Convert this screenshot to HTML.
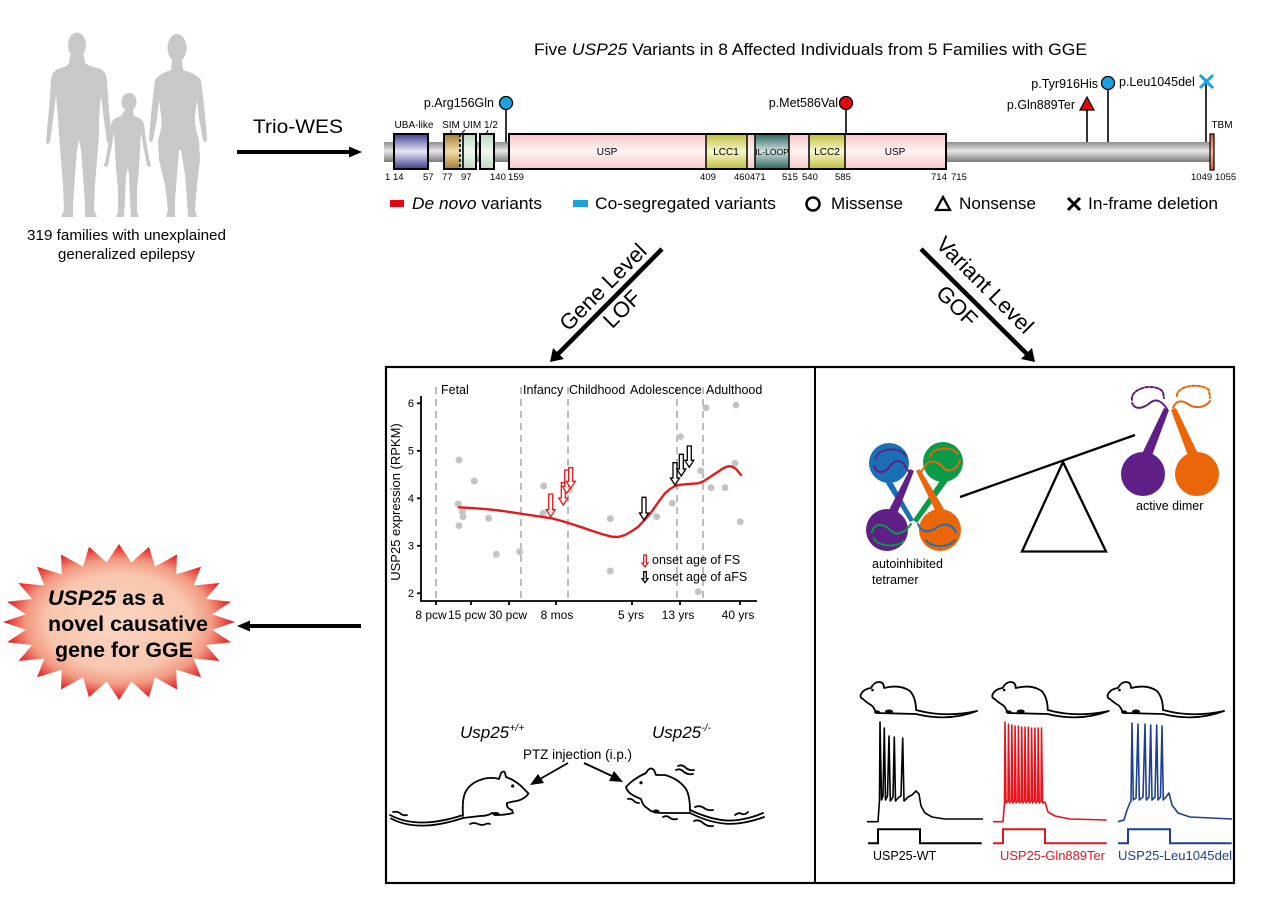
<!DOCTYPE html>
<html><head><meta charset="utf-8">
<style>
html,body{margin:0;padding:0;background:#fff;}
svg{display:block;font-family:"Liberation Sans",Arial,sans-serif;}
</style></head><body>
<svg width="1268" height="906" viewBox="0 0 1268 906" xmlns="http://www.w3.org/2000/svg">
<defs>
 <linearGradient id="gbar" x1="0" y1="0" x2="0" y2="1">
  <stop offset="0" stop-color="#8e8e8e"/><stop offset="0.45" stop-color="#e8e8e8"/><stop offset="1" stop-color="#7a7a7a"/>
 </linearGradient>
 <linearGradient id="gUBA" x1="0" y1="0" x2="0" y2="1">
  <stop offset="0" stop-color="#3c3f8c"/><stop offset="0.5" stop-color="#e8e8f6"/><stop offset="1" stop-color="#3c3f8c"/>
 </linearGradient>
 <linearGradient id="gSIM" x1="0" y1="0" x2="0" y2="1">
  <stop offset="0" stop-color="#a07c30"/><stop offset="0.5" stop-color="#f2dca8"/><stop offset="1" stop-color="#a07c30"/>
 </linearGradient>
 <linearGradient id="gGR" x1="0" y1="0" x2="0" y2="1">
  <stop offset="0" stop-color="#bcd9bc"/><stop offset="0.5" stop-color="#f2f9f2"/><stop offset="1" stop-color="#bcd9bc"/>
 </linearGradient>
 <linearGradient id="gUSP" x1="0" y1="0" x2="0" y2="1">
  <stop offset="0" stop-color="#f6c6c6"/><stop offset="0.5" stop-color="#fff4f4"/><stop offset="1" stop-color="#f6c6c6"/>
 </linearGradient>
 <linearGradient id="gLCC" x1="0" y1="0" x2="0" y2="1">
  <stop offset="0" stop-color="#bebe3e"/><stop offset="0.5" stop-color="#f7f7cc"/><stop offset="1" stop-color="#bebe3e"/>
 </linearGradient>
 <linearGradient id="gIL" x1="0" y1="0" x2="0" y2="1">
  <stop offset="0" stop-color="#2c6460"/><stop offset="0.5" stop-color="#d2e2de"/><stop offset="1" stop-color="#2c6460"/>
 </linearGradient>
 <linearGradient id="gTBM" x1="0" y1="0" x2="0" y2="1">
  <stop offset="0" stop-color="#e06030"/><stop offset="0.5" stop-color="#f9b898"/><stop offset="1" stop-color="#e06030"/>
 </linearGradient>
 <radialGradient id="gStar" cx="0.5" cy="0.5" r="0.5">
  <stop offset="0" stop-color="#fbd6c2"/><stop offset="0.62" stop-color="#f8c6ad"/><stop offset="0.8" stop-color="#f29a82"/><stop offset="1" stop-color="#e3151d"/>
 </radialGradient>
</defs>

<!-- ===== Family silhouettes ===== -->
<g fill="#c8c8c8">
 <ellipse cx="77" cy="45" rx="9" ry="12.5"/>
 <path d="M70,55 L84,55 L85,63 Q88,66 98,68 Q106,70 107,80 L109,110 L111,130 L112,142 Q110,146 107,142 L104,120 L101,95 L99,118 L99,135 L97,160 L95,185 L94,210 L97,217 L85,217 L85,205 L83,175 L81,150 L79,140 L77,150 L75,175 L73,205 L73,217 L61,217 L64,210 L63,185 L61,160 L59,135 L58,118 L56,95 L53,120 L50,142 Q47,146 46,142 L47,130 L49,110 L51,80 Q52,70 61,68 Q68,66 69,63 Z"/>
 <ellipse cx="129" cy="102" rx="7.5" ry="9"/>
 <path d="M125,110 L133,110 L134,116 Q142,118 144,124 L146,140 L149,158 L151,166 Q149,168 147,165 L143,145 L141,132 L140,150 L139,168 L137,190 L137,212 L139,217 L131,217 L130,200 L129,175 L128,168 L126,175 L125,200 L124,217 L116,217 L118,212 L118,190 L116,168 L115,150 L114,132 L112,145 L108,165 Q106,168 104,166 L106,158 L109,140 L111,124 Q113,118 121,116 Z"/>
 <ellipse cx="177" cy="48" rx="9.5" ry="14"/>
 <path d="M172,60 L182,60 L183,70 Q197,74 201,80 L204,105 L206,125 L207,140 Q205,144 203,140 L199,118 L197,100 L195,115 Q194,125 199,140 L200,160 L197,185 L195,210 L197,217 L188,217 L187,200 L185,175 L181,150 L179,150 L177,175 L175,200 L175,217 L166,217 L168,210 L165,185 L159,160 L158,140 Q163,125 161,115 L159,100 L157,118 L153,140 Q151,144 149,140 L150,125 L152,105 L155,80 Q159,74 171,70 Z"/>
</g>
<text x="27" y="240" font-size="15" textLength="199" lengthAdjust="spacingAndGlyphs">319 families with unexplained</text>
<text x="58" y="259" font-size="15" textLength="137" lengthAdjust="spacingAndGlyphs">generalized epilepsy</text>

<!-- Trio-WES arrow -->
<text x="253" y="133" font-size="19" textLength="90" lengthAdjust="spacingAndGlyphs">Trio-WES</text>
<line x1="237" y1="152" x2="351" y2="152" stroke="#000" stroke-width="4"/>
<polygon points="349,146.5 362,152 349,157.5" fill="#000"/>

<!-- ===== Protein diagram ===== -->
<text x="534" y="55" font-size="16.5" textLength="553" lengthAdjust="spacingAndGlyphs">Five <tspan font-style="italic">USP25</tspan> Variants in 8 Affected Individuals from 5 Families with GGE</text>

<rect x="384" y="142" width="827" height="20" fill="url(#gbar)"/>

<!-- stems -->
<g stroke="#000" stroke-width="1.6">
 <line x1="506" y1="108" x2="506" y2="142"/>
 <line x1="846" y1="108" x2="846" y2="134"/>
 <line x1="1087" y1="108" x2="1087" y2="142"/>
 <line x1="1108" y1="88" x2="1108" y2="142"/>
 <line x1="1206" y1="84" x2="1206" y2="142"/>
</g>

<!-- domains -->
<g stroke="#000" stroke-width="2">
 <rect x="394" y="134" width="34" height="35" fill="url(#gUBA)"/>
 <rect x="444" y="134" width="16" height="35" fill="url(#gSIM)" stroke="none"/>
 <rect x="460" y="134" width="16" height="35" fill="url(#gGR)" stroke="none"/>
 <rect x="444" y="134" width="32" height="35" fill="none"/>
 <line x1="463" y1="134" x2="463" y2="169" stroke-width="1.6"/>
 <rect x="480" y="134" width="14" height="35" fill="url(#gGR)"/>
 <rect x="509" y="134" width="437" height="35" fill="url(#gUSP)"/>
 <rect x="706" y="134" width="41" height="35" fill="url(#gLCC)" stroke-width="1.5"/>
 <rect x="755" y="134" width="34" height="35" fill="url(#gIL)" stroke-width="1.5"/>
 <rect x="809" y="134" width="36" height="35" fill="url(#gLCC)" stroke-width="1.5"/>
 <rect x="509" y="134" width="437" height="35" fill="none"/>
 <rect x="1210" y="134" width="4" height="36" fill="url(#gTBM)" stroke-width="1.2"/>
</g>
<line x1="460" y1="134" x2="460" y2="169" stroke="#000" stroke-width="1.6" stroke-dasharray="3,2"/>

<g font-size="10" text-anchor="middle">
 <text x="414" y="128">UBA-like</text>
 <text x="451" y="128">SIM</text>
 <text x="472" y="128">UIM</text>
 <text x="491" y="128">1/2</text>
 <text x="607" y="155">USP</text>
 <text x="726" y="155">LCC1</text>
 <text x="772" y="155" font-size="8.5">IL-LOOP</text>
 <text x="827" y="155">LCC2</text>
 <text x="895" y="155">USP</text>
 <text x="1222" y="128">TBM</text>
</g>
<g stroke="#000" stroke-width="1">
 <line x1="451" y1="130" x2="451" y2="134"/>
 <line x1="465" y1="130" x2="461" y2="134"/>
 <line x1="488" y1="130" x2="486" y2="134"/>
</g>

<g font-size="9.5">
 <text x="385" y="180">1</text>
 <text x="393" y="180">14</text>
 <text x="423" y="180">57</text>
 <text x="442" y="180">77</text>
 <text x="461" y="180">97</text>
 <text x="490" y="180">140</text>
 <text x="508" y="180">159</text>
 <text x="700" y="180">409</text>
 <text x="734" y="180">460471</text>
 <text x="782" y="180">515</text>
 <text x="802" y="180">540</text>
 <text x="835" y="180">585</text>
 <text x="931" y="180">714</text>
 <text x="951" y="180">715</text>
 <text x="1191" y="180">1049</text>
 <text x="1215" y="180">1055</text>
</g>

<!-- variant markers -->
<circle cx="506" cy="103" r="6.5" fill="#1ba1e2" stroke="#000" stroke-width="1.3"/>
<circle cx="846" cy="103" r="6.5" fill="#e30613" stroke="#000" stroke-width="1.3"/>
<circle cx="1108" cy="83" r="6.5" fill="#1ba1e2" stroke="#000" stroke-width="1.3"/>
<polygon points="1087,97 1094,110 1080,110" fill="#e30613" stroke="#000" stroke-width="1.2"/>
<g stroke="#1ba1e2" stroke-width="3">
 <line x1="1200" y1="75" x2="1213" y2="88"/><line x1="1213" y1="75" x2="1200" y2="88"/>
</g>
<g font-size="12.5">
 <text x="494" y="107" text-anchor="end">p.Arg156Gln</text>
 <text x="838" y="107" text-anchor="end">p.Met586Val</text>
 <text x="1075" y="109" text-anchor="end">p.Gln889Ter</text>
 <text x="1098" y="88" text-anchor="end">p.Tyr916His</text>
 <text x="1119" y="86">p.Leu1045del</text>
</g>

<!-- legend -->
<rect x="390" y="200" width="14" height="7" fill="#e30613"/>
<text x="412" y="209" font-size="17" textLength="130" lengthAdjust="spacingAndGlyphs"><tspan font-style="italic">De novo</tspan> variants</text>
<rect x="573" y="200" width="15" height="7" fill="#1ba1e2"/>
<text x="595" y="209" font-size="17" textLength="181" lengthAdjust="spacingAndGlyphs">Co-segregated variants</text>
<circle cx="813" cy="204" r="6.5" fill="none" stroke="#000" stroke-width="2.5"/>
<text x="831" y="209" font-size="17" textLength="72" lengthAdjust="spacingAndGlyphs">Missense</text>
<polygon points="943,197 950,210 936,210" fill="none" stroke="#000" stroke-width="2.3"/>
<text x="959" y="209" font-size="17" textLength="77" lengthAdjust="spacingAndGlyphs">Nonsense</text>
<g stroke="#000" stroke-width="3"><line x1="1068" y1="198" x2="1080" y2="210"/><line x1="1080" y1="198" x2="1068" y2="210"/></g>
<text x="1088" y="209" font-size="17" textLength="130" lengthAdjust="spacingAndGlyphs">In-frame deletion</text>

<!-- ===== diagonal arrows ===== -->
<line x1="662" y1="249" x2="557" y2="355" stroke="#000" stroke-width="4.5"/>
<polygon points="550,362 553,348 564,359" fill="#000"/>
<line x1="921" y1="249" x2="1028" y2="355" stroke="#000" stroke-width="4.5"/>
<polygon points="1035,362 1021,359 1032,348" fill="#000"/>
<text transform="translate(603,287) rotate(-45)" font-size="22" text-anchor="middle" dominant-baseline="central">Gene Level</text>
<text transform="translate(622,309) rotate(-45)" font-size="22" text-anchor="middle" dominant-baseline="central">LOF</text>
<text transform="translate(985,285) rotate(45)" font-size="22" text-anchor="middle" dominant-baseline="central">Variant Level</text>
<text transform="translate(957,306) rotate(45)" font-size="22" text-anchor="middle" dominant-baseline="central">GOF</text>

<!-- ===== main box ===== -->
<rect x="386" y="367" width="848" height="516" fill="none" stroke="#000" stroke-width="2.2"/>
<line x1="815" y1="367" x2="815" y2="883" stroke="#000" stroke-width="2"/>

<!-- ===== Starburst ===== -->
<polygon fill="url(#gStar)" points="235,622 212.2,629.8 231,642.2 205.8,645 219.5,661 193.6,658.5 201,677.2 176.2,669.6 177,689.5 155,677.4 149,697.3 131.3,681.5 119,700 106.7,681.5 89,697.3 83,677.4 61,689.5 61.8,669.6 37,677.2 44.4,658.5 18.5,661 32.2,645 7,642.2 25.8,629.8 3,622 25.8,614.2 7,601.8 32.2,599 18.5,583 44.4,585.5 37,566.8 61.8,574.4 61,554.5 83,566.6 89,546.7 106.7,562.5 119,544 131.3,562.5 149,546.7 155,566.6 177,554.5 176.2,574.4 201,566.8 193.6,585.5 219.5,583 205.8,599 231,601.8 212.2,614.2"/>
<g font-size="21.5" font-weight="bold">
 <text x="48" y="605" textLength="116" lengthAdjust="spacingAndGlyphs"><tspan font-style="italic">USP25</tspan> as a</text>
 <text x="48" y="631" textLength="160" lengthAdjust="spacingAndGlyphs">novel causative</text>
 <text x="55" y="657" textLength="138" lengthAdjust="spacingAndGlyphs">gene for GGE</text>
</g>
<line x1="361" y1="626" x2="248" y2="626" stroke="#000" stroke-width="4"/>
<polygon points="250,620.5 237,626 250,631.5" fill="#000"/>

<!-- ===== Expression chart ===== -->
<g stroke="#bdbdbd" stroke-width="2" stroke-dasharray="7,5">
 <line x1="436" y1="387" x2="436" y2="600"/>
 <line x1="521" y1="387" x2="521" y2="600"/>
 <line x1="568" y1="387" x2="568" y2="600"/>
 <line x1="677" y1="387" x2="677" y2="600"/>
 <line x1="703" y1="387" x2="703" y2="600"/>
</g>
<g font-size="12.5">
 <text x="441" y="394">Fetal</text>
 <text x="523" y="394">Infancy</text>
 <text x="569" y="394">Childhood</text>
 <text x="630" y="394">Adolescence</text>
 <text x="706" y="394">Adulthood</text>
</g>
<g stroke="#000" stroke-width="1.8">
 <line x1="421" y1="396" x2="421" y2="601.5"/>
 <line x1="420" y1="601" x2="757" y2="601"/>
 <line x1="417" y1="403.3" x2="421" y2="403.3"/>
 <line x1="417" y1="450.8" x2="421" y2="450.8"/>
 <line x1="417" y1="498.3" x2="421" y2="498.3"/>
 <line x1="417" y1="545.8" x2="421" y2="545.8"/>
 <line x1="417" y1="593.3" x2="421" y2="593.3"/>
 <line x1="436" y1="601" x2="436" y2="605"/>
 <line x1="471" y1="601" x2="471" y2="605"/>
 <line x1="509" y1="601" x2="509" y2="605"/>
 <line x1="556" y1="601" x2="556" y2="605"/>
 <line x1="632" y1="601" x2="632" y2="605"/>
 <line x1="680" y1="601" x2="680" y2="605"/>
 <line x1="740" y1="601" x2="740" y2="605"/>
</g>
<g font-size="11" text-anchor="end">
 <text x="414" y="407">6</text>
 <text x="414" y="454.5">5</text>
 <text x="414" y="502">4</text>
 <text x="414" y="549.5">3</text>
 <text x="414" y="597">2</text>
</g>
<text transform="translate(400,502) rotate(-90)" font-size="13" text-anchor="middle">USP25 expression (RPKM)</text>
<g font-size="12" text-anchor="middle">
 <text x="431" y="619">8 pcw</text>
 <text x="467" y="619">15 pcw</text>
 <text x="508" y="619">30 pcw</text>
 <text x="557" y="619">8 mos</text>
 <text x="631" y="619">5 yrs</text>
 <text x="678" y="619">13 yrs</text>
 <text x="738" y="619">40 yrs</text>
</g>
<g fill="#c4c4c4">
 <circle cx="459" cy="460" r="3.5"/><circle cx="458.3" cy="504" r="3.5"/><circle cx="462.3" cy="511.7" r="3.5"/>
 <circle cx="463" cy="516.7" r="3.5"/><circle cx="459" cy="525.7" r="3.5"/><circle cx="474.3" cy="481" r="3.5"/>
 <circle cx="488.7" cy="518.3" r="3.5"/><circle cx="496.3" cy="554.3" r="3.5"/><circle cx="519.7" cy="551.7" r="3.5"/>
 <circle cx="543.7" cy="486" r="3.5"/><circle cx="543" cy="513.3" r="3.5"/><circle cx="569.3" cy="490" r="3.5"/>
 <circle cx="610.3" cy="518.7" r="3.5"/><circle cx="610.3" cy="571" r="3.5"/><circle cx="656.7" cy="516.7" r="3.5"/>
 <circle cx="672.3" cy="503.3" r="3.5"/><circle cx="680.3" cy="436.7" r="3.5"/><circle cx="698.3" cy="591.7" r="3.5"/>
 <circle cx="700.7" cy="470.7" r="3.5"/><circle cx="711" cy="487.7" r="3.5"/><circle cx="706" cy="407.7" r="3.5"/>
 <circle cx="725" cy="487.7" r="3.5"/><circle cx="735" cy="463.3" r="3.5"/><circle cx="736" cy="405" r="3.5"/>
 <circle cx="740.3" cy="521.7" r="3.5"/>
</g>
<polyline fill="none" stroke="#e41a1c" stroke-width="2.4" stroke-linejoin="round" stroke-linecap="round" points="459,507.3 474,508.2 488.3,509.3 503,511 518.3,513.3 535,515.8 551.7,518.3 562,521 571.7,524 581.7,527.3 591.7,530.7 601.7,534 611.7,536.7 618,537 625,535 632,531 638.3,526.7 645,519.5 651.7,511.7 658,502.5 665,493.3 670,489 675,486 680,484.8 685,484.3 691,483.8 698.3,483.3 703,481.5 708.3,478.3 713,475 718.3,471.7 722,469 726.7,466.7 730,466.2 733.3,467.3 736,469 738.3,471.7 741,475"/>
<g fill="#fff" stroke="#e41a1c" stroke-width="1.3">
 <path d="M548.7,494 L552.7,494 L552.7,509.7 L555.2,509.7 L550.7,516.7 L546.2,509.7 L548.7,509.7 Z"/>
 <path d="M561.3,482.7 L565.3,482.7 L565.3,498 L567.8,498 L563.3,505 L558.8,498 L561.3,498 Z"/>
 <path d="M564.7,470 L568.7,470 L568.7,486.3 L571.2,486.3 L566.7,493.3 L562.2,486.3 L564.7,486.3 Z"/>
 <path d="M568.7,467.7 L572.7,467.7 L572.7,481.3 L575.2,481.3 L570.7,488.3 L566.2,481.3 L568.7,481.3 Z"/>
 <path d="M643.7,555 L646.3,555 L646.3,563 L648,563 L645,567 L642,563 L643.7,563 Z"/>
</g>
<g fill="#fff" stroke="#000" stroke-width="1.3">
 <path d="M642,497.3 L646,497.3 L646,513 L648.5,513 L644,520 L639.5,513 L642,513 Z"/>
 <path d="M673,462.7 L677,462.7 L677,478 L679.5,478 L675,485 L670.5,478 L673,478 Z"/>
 <path d="M679.3,454.3 L683.3,454.3 L683.3,469 L685.8,469 L681.3,476 L676.8,469 L679.3,469 Z"/>
 <path d="M687.3,446 L691.3,446 L691.3,460.3 L693.8,460.3 L689.3,467.3 L684.8,460.3 L687.3,460.3 Z"/>
 <path d="M643.7,571.7 L646.3,571.7 L646.3,578.7 L648,578.7 L645,582.7 L642,578.7 L643.7,578.7 Z"/>
</g>
<text x="652" y="564" font-size="12.5">onset age of FS</text>
<text x="652" y="581" font-size="12.5">onset age of aFS</text>

<!-- ===== Knockout mice ===== -->
<text x="460" y="738" font-size="17" font-style="italic">Usp25<tspan font-size="10.5" dy="-7">+/+</tspan></text>
<text x="652" y="738" font-size="17" font-style="italic">Usp25<tspan font-size="10.5" dy="-7">-/-</tspan></text>
<text x="523" y="759" font-size="13.5" textLength="109" lengthAdjust="spacingAndGlyphs">PTZ injection (i.p.)</text>
<line x1="568" y1="763" x2="540" y2="779" stroke="#000" stroke-width="1.8"/>
<polygon points="530,785 538,774 544,783" fill="#000"/>
<line x1="584" y1="763" x2="612" y2="776" stroke="#000" stroke-width="1.8"/>
<polygon points="623,782 609,781 614,771" fill="#000"/>

<g fill="none" stroke="#000" stroke-width="1.8" stroke-linejoin="round" stroke-linecap="round">
 <!-- left mouse -->
 <path d="M390,815 Q418,830 463,815"/>
 <path d="M391,818.5 Q418,833 463,818"/>
 <path d="M463,816 Q462,800 465,793 Q470,782 485,778.5 Q493,777 499,779 L501,773 Q504,770 505,773 L506,777 Q517,781 525,790 L528.5,793.5 Q526,797 523,798.5 Q519,801 513,801.5 L507,803 Q506,808 512,810 L513,813 Q506,815 498,815 Q496,813 492,813 Q488,816 480,816 L463,818"/>
 <path d="M393,812 Q398,811 401,814 Q404,816 407,815"/>
 <path d="M470,824 Q474,822 478,824 Q482,826 486,824 Q488,823 490,824"/>
 <!-- right mouse -->
 <path d="M690,810 Q718,823 738,820 Q752,818 763,813"/>
 <path d="M690,813 Q718,827 741,823 Q754,821 764,817"/>
 <path d="M690,811 Q690,796 686,789 Q679,779 665,775 L656,775 L654,770 Q651,767 648,770 L646,773 Q637,777 630,783 L626,787 Q627,791 631,794 Q636,797 641,799 Q643,806 647,808 L651,811 Q656,813 662,813 L690,813"/>
 <path d="M676,770 Q680,768 684,772 Q688,775 693,774"/>
 <path d="M678,766 Q682,764 686,768 Q690,771 694,770"/>
 <path d="M628,799 Q631,798 634,801 Q636,803 639,803"/>
 <path d="M663,817 Q667,815 670,818 Q673,820 677,819"/>
 <path d="M695,807 Q700,805 704,808 Q708,811 713,810"/>
 <path d="M694,821 Q699,819 703,823 Q708,827 713,826"/>
 <path d="M735,815 Q739,812 742,814 Q745,815 748,812"/>
</g>
<circle cx="512.7" cy="786" r="1.6" fill="#000"/>
<ellipse cx="496" cy="814" rx="3.5" ry="2" fill="#000"/>
<circle cx="641" cy="782.7" r="1.6" fill="#000"/>
<ellipse cx="656" cy="811.5" rx="3.5" ry="2" fill="#000"/>

<!-- ===== Tetramer ===== -->
<circle cx="889" cy="463" r="20" fill="#1a6fb5"/>
<circle cx="943" cy="462" r="20" fill="#0b9a47"/>
<circle cx="887" cy="530" r="21" fill="#5f1f86"/>
<circle cx="940" cy="530" r="21" fill="#eb6608"/>
<polygon points="884,480 890,478 914,520 910,522" fill="#1a6fb5"/>
<polygon points="942,478 948,481 917,523 913,520" fill="#0b9a47"/>
<polygon points="889,510 897,514 914,471 910,469" fill="#5f1f86"/>
<polygon points="936,512 944,509 920,469 916,471" fill="#eb6608"/>
<g fill="none" stroke-width="2" stroke-linecap="round">
 <path d="M874,466 C878,476 886,472 890,466 C894,460 902,458 906,468 L910,473" stroke="#5f1f86"/>
 <path d="M876,458 C878,448 900,446 906,456" stroke="#5f1f86" stroke-dasharray="3,2"/>
 <path d="M921,472 L925,466 C930,458 938,462 944,468 C950,474 958,468 960,460" stroke="#eb6608"/>
 <path d="M930,457 C932,446 955,446 958,455" stroke="#eb6608" stroke-dasharray="3,2"/>
 <path d="M872,532 C874,524 882,522 890,530 C896,536 904,534 911,524" stroke="#0b9a47"/>
 <path d="M874,538 C876,547 900,548 904,540" stroke="#0b9a47" stroke-dasharray="3,2"/>
 <path d="M918,524 C922,534 930,532 936,528 C944,522 952,524 956,532" stroke="#1a6fb5"/>
 <path d="M926,540 C930,548 950,548 955,540" stroke="#1a6fb5" stroke-dasharray="3,2"/>
</g>
<text x="872" y="568" font-size="12.5">autoinhibited</text>
<text x="872" y="584" font-size="12.5">tetramer</text>

<!-- seesaw -->
<polygon points="1063,462 1022,551.5 1106,551.5" fill="#fff" stroke="#000" stroke-width="2.3"/>
<line x1="960" y1="497" x2="1135" y2="435" stroke="#000" stroke-width="2.3"/>

<!-- active dimer -->
<circle cx="1143" cy="474" r="22" fill="#5f1f86"/>
<circle cx="1197" cy="474" r="22" fill="#eb6608"/>
<polygon points="1140,458 1150,461 1169,410 1164,408" fill="#5f1f86"/>
<polygon points="1190,461 1200,458 1176,408 1171,410" fill="#eb6608"/>
<g fill="none" stroke-width="2" stroke-linecap="round">
 <path d="M1132,403 C1135,410 1142,409 1150,403 C1156,398 1162,401 1167,409" stroke="#5f1f86"/>
 <path d="M1132,400 C1130,388 1155,382 1163,392 L1164,398" stroke="#5f1f86" stroke-dasharray="3,2"/>
 <path d="M1173,408 C1176,400 1182,400 1188,404 C1195,409 1205,408 1210,401" stroke="#eb6608"/>
 <path d="M1177,396 C1176,386 1200,382 1209,390 L1210,398" stroke="#eb6608" stroke-dasharray="3,2"/>
</g>
<text x="1136" y="510" font-size="12.5">active dimer</text>

<!-- ===== top-right mice ===== -->
<g fill="#fff" stroke="#000" stroke-width="1.8" stroke-linejoin="round">
 <path d="M860.7,695 Q863,689 871,688 Q874,682 879,682 Q884,682 884,688 Q900,684 910,691 Q916,698 916,710 Q945,718 977,711 Q948,722 916,714 L876,713 Q874,707 871,705 Q866,702 863,699 Q860,698 860.7,695 Z"/>
 <path transform="translate(131.7,0)" d="M860.7,695 Q863,689 871,688 Q874,682 879,682 Q884,682 884,688 Q900,684 910,691 Q916,698 916,710 Q945,718 977,711 Q948,722 916,714 L876,713 Q874,707 871,705 Q866,702 863,699 Q860,698 860.7,695 Z"/>
 <path transform="translate(247,0)" d="M860.7,695 Q863,689 871,688 Q874,682 879,682 Q884,682 884,688 Q900,684 910,691 Q916,698 916,710 Q945,718 977,711 Q948,722 916,714 L876,713 Q874,707 871,705 Q866,702 863,699 Q860,698 860.7,695 Z"/>
</g>
<g fill="#000">
 <circle cx="872.5" cy="690" r="1.3"/><ellipse cx="889" cy="711.5" rx="4" ry="2"/><ellipse cx="877" cy="712" rx="3" ry="1.6"/>
 <circle cx="1004.2" cy="690" r="1.3"/><ellipse cx="1020.7" cy="711.5" rx="4" ry="2"/><ellipse cx="1008.7" cy="712" rx="3" ry="1.6"/>
 <circle cx="1119.5" cy="690" r="1.3"/><ellipse cx="1136" cy="711.5" rx="4" ry="2"/><ellipse cx="1124" cy="712" rx="3" ry="1.6"/>
</g>

<!-- traces -->
<g fill="none" stroke-width="1.6" stroke-linejoin="round">
 <path stroke="#000" d="M867,821.7 L878,821.7 L879.5,800 L880,722 L881.5,800 L883,796 L884.3,728 L885.5,800 L887.5,796 L889,736 L890.3,801 L893,797 L894.3,737 L895.5,801 L899,797 L901,796 L902.7,738 L904,801 L908,797 L912,795 L916,791 L919,794 L921,806 L925,813 L932,817 L945,819 L983,819"/>
 <path stroke="#e8141c" d="M993,821.7 L1003,821.7 L1004.5,803 L1005,722 L1006,803 L1008,801 L1008.5,724 L1009.5,803 L1011.3,801 L1011.8,725 L1012.8,803 L1014.6,801 L1015.1,726 L1016.1,803 L1017.9,801 L1018.4,726 L1019.4,803 L1021.2,801 L1021.7,727 L1022.7,803 L1024.5,801 L1025,727 L1026,803 L1027.8,801 L1028.3,727 L1029.3,803 L1031.1,801 L1031.6,728 L1032.6,803 L1034.4,801 L1034.9,728 L1035.9,803 L1037.7,801 L1038.2,728 L1039.2,803 L1041,801 L1041.5,728 L1042.5,803 L1045,802 L1048,812 L1055,816 L1070,819 L1106.7,820"/>
 <path stroke="#1d3f98" d="M1118,821.7 L1124,820 Q1128,806 1131,801 L1132,723 L1133.3,800 L1136,798 L1138,724 L1139.3,800 L1143,797 L1145,724 L1146.3,800 L1149,797 L1150.7,725 L1152,800 L1155,797 L1156.7,725 L1158,800 L1160.5,797 L1162,726 L1163.3,800 L1166,797 L1169,793 L1172,805 L1178,813 L1190,817 L1232,819"/>
</g>
<g fill="none" stroke-width="2">
 <path stroke="#000" d="M868,843.3 L878,843.3 L878,829.3 L920,829.3 L920,843.3 L981.7,843.3"/>
 <path stroke="#e8141c" d="M993,843.3 L1003,843.3 L1003,829.3 L1045,829.3 L1045,843.3 L1106.7,843.3"/>
 <path stroke="#1d3f98" d="M1118,843.3 L1128,843.3 L1128,829.3 L1170,829.3 L1170,843.3 L1231.7,843.3"/>
</g>
<text x="873" y="860" font-size="12.5">USP25-WT</text>
<text x="1000" y="860" font-size="12.5" fill="#e8141c" textLength="105" lengthAdjust="spacingAndGlyphs">USP25-Gln889Ter</text>
<text x="1118" y="860" font-size="13" fill="#1d3f98" textLength="114" lengthAdjust="spacingAndGlyphs">USP25-Leu1045del</text>
</svg>
</body></html>
